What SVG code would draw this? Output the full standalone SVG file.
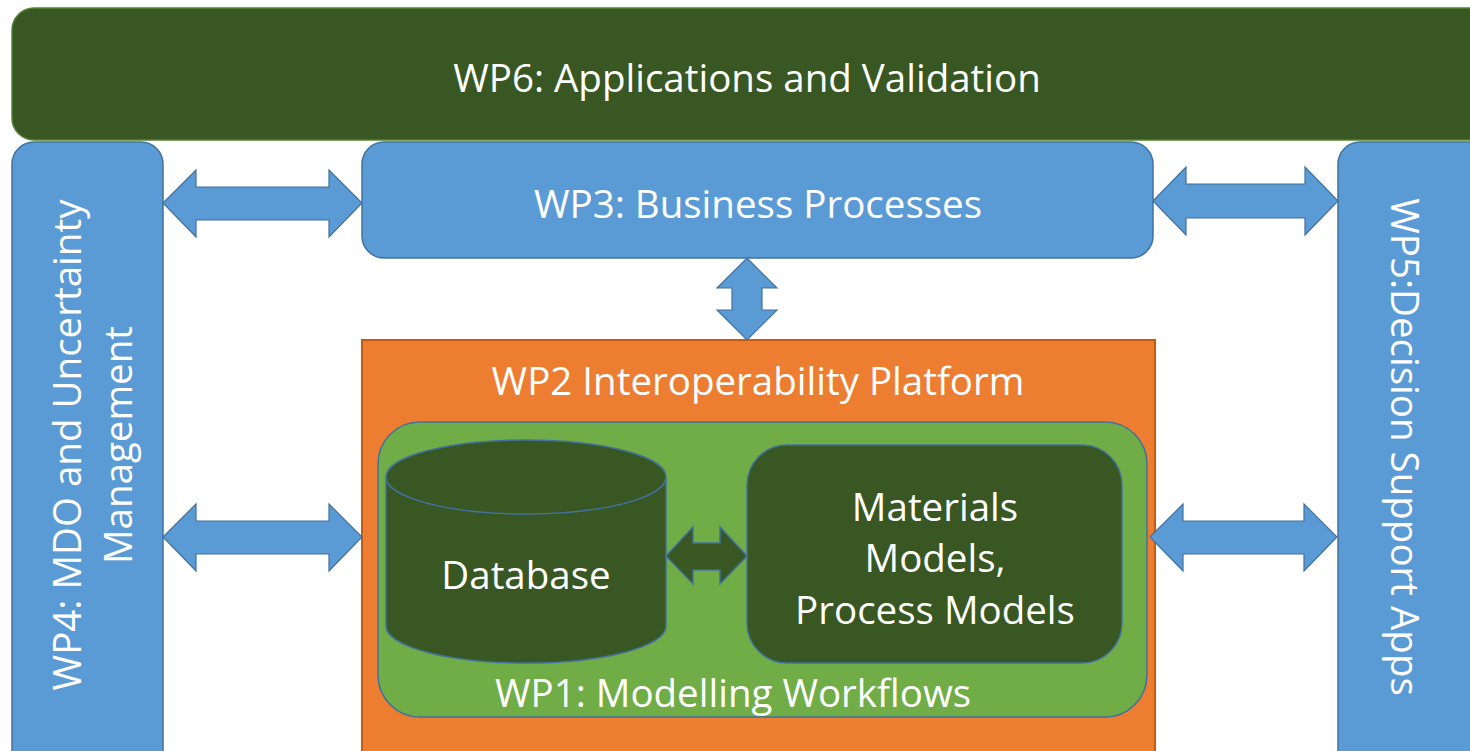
<svg xmlns="http://www.w3.org/2000/svg" width="1470" height="751" viewBox="0 0 1470 751">
<style>
.t{font-family:"Open Sans","Liberation Sans",sans-serif;fill:#ffffff;text-anchor:middle;font-size:38.5px}
.blue{fill:#5b9bd5;stroke:#41719c;stroke-width:1.5}
.dg{fill:#385723;stroke:#41719c;stroke-width:1.5}
.arr{fill:#5b9bd5;stroke:#41719c;stroke-width:1.2}
</style>
<rect width="1470" height="751" fill="#ffffff"/>
<g id="wp6">
<rect x="12" y="8" width="1480" height="132" rx="22" fill="#385723" stroke="#548235" stroke-width="1.5"/>
<text class="t" x="747" y="92">WP6: Applications and Validation</text>
</g>
<g id="wp4">
<rect class="blue" x="12" y="142" width="151" height="640" rx="22"/>
<text class="t" transform="translate(81,445) rotate(-90)">WP4: MDO and Uncertainty</text>
<text class="t" transform="translate(132,445) rotate(-90)">Management</text>
</g>
<g id="wp5">
<rect class="blue" x="1338" y="142" width="160" height="640" rx="22"/>
<text class="t" transform="translate(1391,447) rotate(90)">WP5:Decision Support Apps</text>
</g>
<g id="wp3">
<rect class="blue" x="362" y="142" width="791" height="116" rx="22"/>
<text class="t" x="758" y="218">WP3: Business Processes</text>
</g>
<g id="wp2">
<rect x="362" y="340" width="793" height="430" fill="#ed7d31" stroke="#c55a11" stroke-width="2"/>
<text class="t" x="758" y="395">WP2 Interoperability Platform</text>
</g>
<g id="wp1">
<rect x="378" y="422" width="769" height="295" rx="42" fill="#70ad47" stroke="#41719c" stroke-width="1.5"/>
<text class="t" x="733" y="707">WP1: Modelling Workflows</text>
</g>
<g id="database">
<path class="dg" d="M386,477 L386,626 A140,37 0 0 0 666,626 L666,477 A140,37 0 0 0 386,477 Z"/>
<path d="M386,477 A140,37 0 0 0 666,477" fill="none" stroke="#41719c" stroke-width="1.5"/>
<text class="t" x="526" y="589">Database</text>
</g>
<g id="models">
<rect class="dg" x="747" y="445" width="375" height="218" rx="40"/>
<text class="t" x="935" y="521">Materials</text>
<text class="t" x="935" y="572">Models,</text>
<text class="t" x="935" y="624">Process Models</text>
</g>
<g id="connectors">
<polygon class="arr" points="163,203 196,170 196,187 329,187 329,170 362,203 329,237 329,220 196,220 196,237"/>
<polygon class="arr" points="1153,201 1186,167 1186,184 1305,184 1305,167 1338,201 1305,235 1305,218 1186,218 1186,235"/>
<polygon class="arr" points="163,537 196,504 196,521 329,521 329,504 362,537 329,571 329,554 196,554 196,571"/>
<polygon class="arr" points="1150,537 1183,504 1183,521 1304,521 1304,504 1337,537 1304,571 1304,554 1183,554 1183,571"/>
<polygon class="arr" points="747,258 777,288 762,288 762,310 777,310 747,340 717,310 732,310 732,288 717,288"/>
<polygon class="dg" points="666,556 693,527 693,543 720,543 720,527 747,556 720,584 720,570 693,570 693,584"/>
</g>
</svg>
